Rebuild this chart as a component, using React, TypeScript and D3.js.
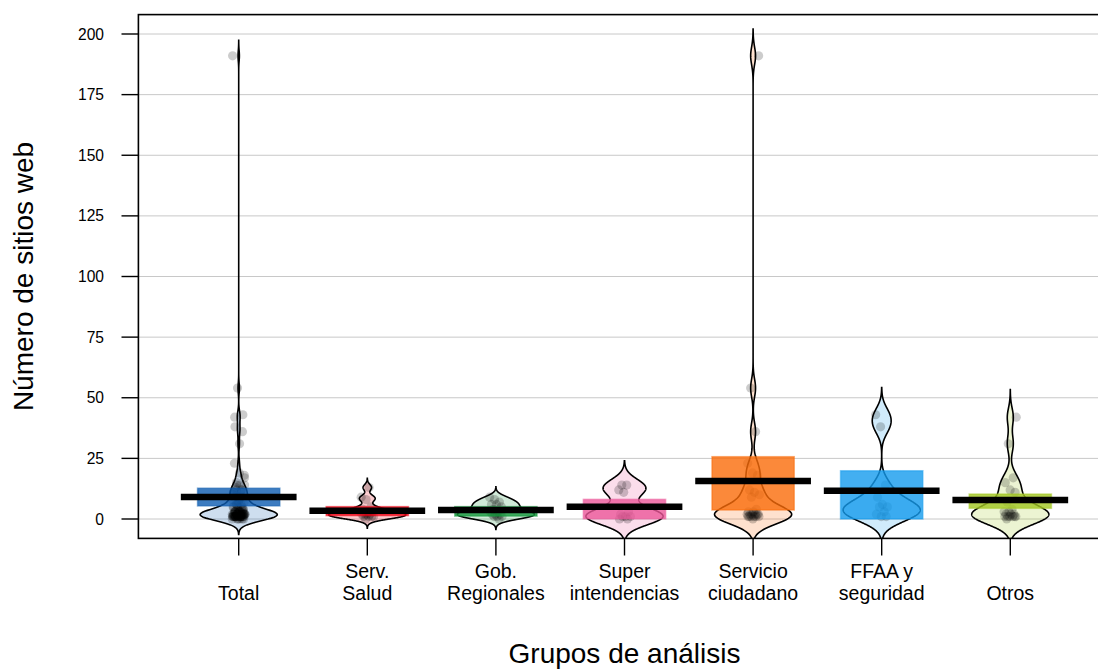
import React from "react";
import * as d3 from "d3";

// ---------- data ----------
const categories = [
  "Total",
  "Serv.\nSalud",
  "Gob.\nRegionales",
  "Super\nintendencias",
  "Servicio\nciudadano",
  "FFAA y\nseguridad",
  "Otros",
];

const servSalud = [0, 1, 1, 1, 1, 2, 2, 2, 2, 3, 3, 4, 5, 8, 9, 13];
const gobRegionales = [0, 1, 1, 1, 2, 2, 2, 3, 3, 4, 5, 6, 6, 7, 8, 9];
const superintendencias = [0, 0, 1, 1, 1, 2, 3, 11, 12, 14, 14];
const servicioCiudadano = [
  0, 1, 1, 1, 1, 1, 1, 2, 2, 2, 2, 2, 2, 3, 3, 4, 9, 10, 11, 12, 18, 19, 23, 36, 54, 191,
];
const ffaaSeguridad = [1, 1, 2, 3, 5, 5, 6, 9, 14, 38, 43];
const otros = [0, 1, 1, 1, 1, 1, 1, 2, 2, 2, 3, 3, 4, 7, 11, 12, 15, 17, 31, 42];
const total = [
  ...servSalud,
  ...gobRegionales,
  ...superintendencias,
  ...servicioCiudadano,
  ...ffaaSeguridad,
  ...otros,
];
const groups = [total, servSalud, gobRegionales, superintendencias, servicioCiudadano, ffaaSeguridad, otros];

// summary lines: mean line and inference band
const means = [9.1, 3.4, 3.7, 5.1, 15.7, 11.7, 7.8];
const bandLow = [5.4, 1.4, 1.2, 0.1, 3.7, 0.0, 4.4];
const bandHigh = [12.7, 5.1, 5.1, 8.1, 25.7, 19.9, 10.3];

const colors = ["#0C5BB0", "#EE0011", "#15983D", "#EC579A", "#FA6B09", "#149BED", "#A1C720"];
const yTicks = [0, 25, 50, 75, 100, 125, 150, 175, 200];

const yTitle = "Número de sitios web";
const xTitle = "Grupos de análisis";

// ---------- layout ----------
const W = 1098;
const H = 669;
const FONT = "'Liberation Sans', Arial, Helvetica, sans-serif";
const x = d3.scaleLinear().domain([0.22, 7.78]).range([138.4, 1110.6]);
const y = d3.scaleLinear().domain([-8, 208]).range([538.4, 14.6]);

function bwNrd0(v: number[]) {
  const s = d3.deviation(v) || 0;
  const sorted = v.slice().sort(d3.ascending);
  const iqr = (d3.quantileSorted(sorted, 0.75) as number) - (d3.quantileSorted(sorted, 0.25) as number);
  let lo = Math.min(s, iqr / 1.34);
  if (!(lo > 0)) lo = s || Math.abs(v[0]) || 1;
  return 0.9 * lo * Math.pow(v.length, -0.2);
}

function beanPath(v: number[], center: number) {
  const bw = bwNrd0(v);
  const lo = (d3.min(v) as number) - 3 * bw;
  const hi = (d3.max(v) as number) + 3 * bw;
  const N = 512;
  const grid = d3.range(N).map((i) => lo + ((hi - lo) * i) / (N - 1));
  const k = 1 / (v.length * bw * Math.sqrt(2 * Math.PI));
  const dens = grid.map((g) => k * d3.sum(v, (xi) => Math.exp(-0.5 * ((g - xi) / bw) ** 2)));
  const mx = d3.max(dens) as number;
  let scale = 1;
  if (mx < 0.3) scale = 0.3 / mx;
  if (mx > 0.45) scale = 0.45 / mx;
  const pts: [number, number][] = [];
  grid.forEach((g, i) => pts.push([x(center + dens[i] * scale), y(g)]));
  for (let i = N - 1; i >= 0; i--) pts.push([x(center - dens[i] * scale), y(grid[i])]);
  return (d3.line()(pts) as string) + "Z";
}

function jitter(i: number, gi: number) {
  const f = (i * 0.6180339887 + gi * 0.37) % 1;
  return (f - 0.5) * 0.1;
}

export default function App() {
  return (
    <div style={{ position: "absolute", left: 0, top: 0 }}>
      <svg width={W} height={H} style={{ display: "block", background: "#fff" }}>
        <defs>
          <clipPath id="plotClip">
            <rect x={138.4} y={14.6} width={1110.6 - 138.4} height={538.4 - 14.6} />
          </clipPath>
        </defs>
        <g clipPath="url(#plotClip)">
          {yTicks.map((t) => (
            <line key={"g" + t} x1={138.4} x2={1110.6} y1={y(t)} y2={y(t)} stroke="#c8c8c8" strokeWidth={1} />
          ))}
          {groups.map((v, gi) => (
            <path
              key={"b" + gi}
              d={beanPath(v, gi + 1)}
              fill={colors[gi]}
              fillOpacity={0.2}
              stroke="none"
            />
          ))}
          {groups.map((v, gi) => (
            <path key={"bb" + gi} d={beanPath(v, gi + 1)} fill="none" stroke="#000" strokeWidth={1.6} />
          ))}
          {groups.map((v, gi) =>
            v.map((val, i) => (
              <circle
                key={"p" + gi + "-" + i}
                cx={x(gi + 1 + jitter(i, gi))}
                cy={y(val)}
                r={4.6}
                fill="#000"
                fillOpacity={0.2}
              />
            ))
          )}
          {groups.map((_, gi) => (
            <rect
              key={"i" + gi}
              x={x(gi + 1 - 0.32)}
              width={x(gi + 1.32) - x(gi + 1 - 0.32)}
              y={y(bandHigh[gi])}
              height={y(bandLow[gi]) - y(bandHigh[gi])}
              fill={colors[gi]}
              fillOpacity={0.8}
              stroke={colors[gi]}
              strokeOpacity={0.5}
              strokeWidth={1.5}
            />
          ))}
          {groups.map((_, gi) => (
            <line
              key={"m" + gi}
              x1={x(gi + 1 - 0.45)}
              x2={x(gi + 1.45)}
              y1={y(means[gi])}
              y2={y(means[gi])}
              stroke="#000"
              strokeWidth={6.5}
            />
          ))}
        </g>
        {/* box */}
        <rect x={138.4} y={14.6} width={1110.6 - 138.4} height={538.4 - 14.6} fill="none" stroke="#000" strokeWidth={1.6} />
        {/* y axis */}
        {yTicks.map((t) => (
          <g key={"yt" + t}>
            <line x1={121.5} x2={138.4} y1={y(t)} y2={y(t)} stroke="#000" strokeWidth={1.4} />
            <text x={104} y={y(t) + 5.5} textAnchor="end" fontFamily={FONT} fontSize={15.6} fill="#000">
              {t}
            </text>
          </g>
        ))}
        {/* x axis */}
        {categories.map((c, gi) => {
          const lines = c.split("\n");
          const base = lines.length === 1 ? [600] : [578, 600];
          return (
            <g key={"xt" + gi}>
              <line x1={x(gi + 1)} x2={x(gi + 1)} y1={538.4} y2={555.5} stroke="#000" strokeWidth={1.4} />
              {lines.map((l, li) => (
                <text
                  key={li}
                  x={x(gi + 1)}
                  y={base[li]}
                  textAnchor="middle"
                  fontFamily={FONT}
                  fontSize={19.5}
                  fill="#000"
                >
                  {l}
                </text>
              ))}
            </g>
          );
        })}
        <text
          transform={`translate(33,${(14.6 + 538.4) / 2}) rotate(-90)`}
          textAnchor="middle"
          fontFamily={FONT}
          fontSize={28}
          fill="#000"
        >
          {yTitle}
        </text>
        <text x={(138.4 + 1110.6) / 2} y={663} textAnchor="middle" fontFamily={FONT} fontSize={28} fill="#000">
          {xTitle}
        </text>
      </svg>
    </div>
  );
}
